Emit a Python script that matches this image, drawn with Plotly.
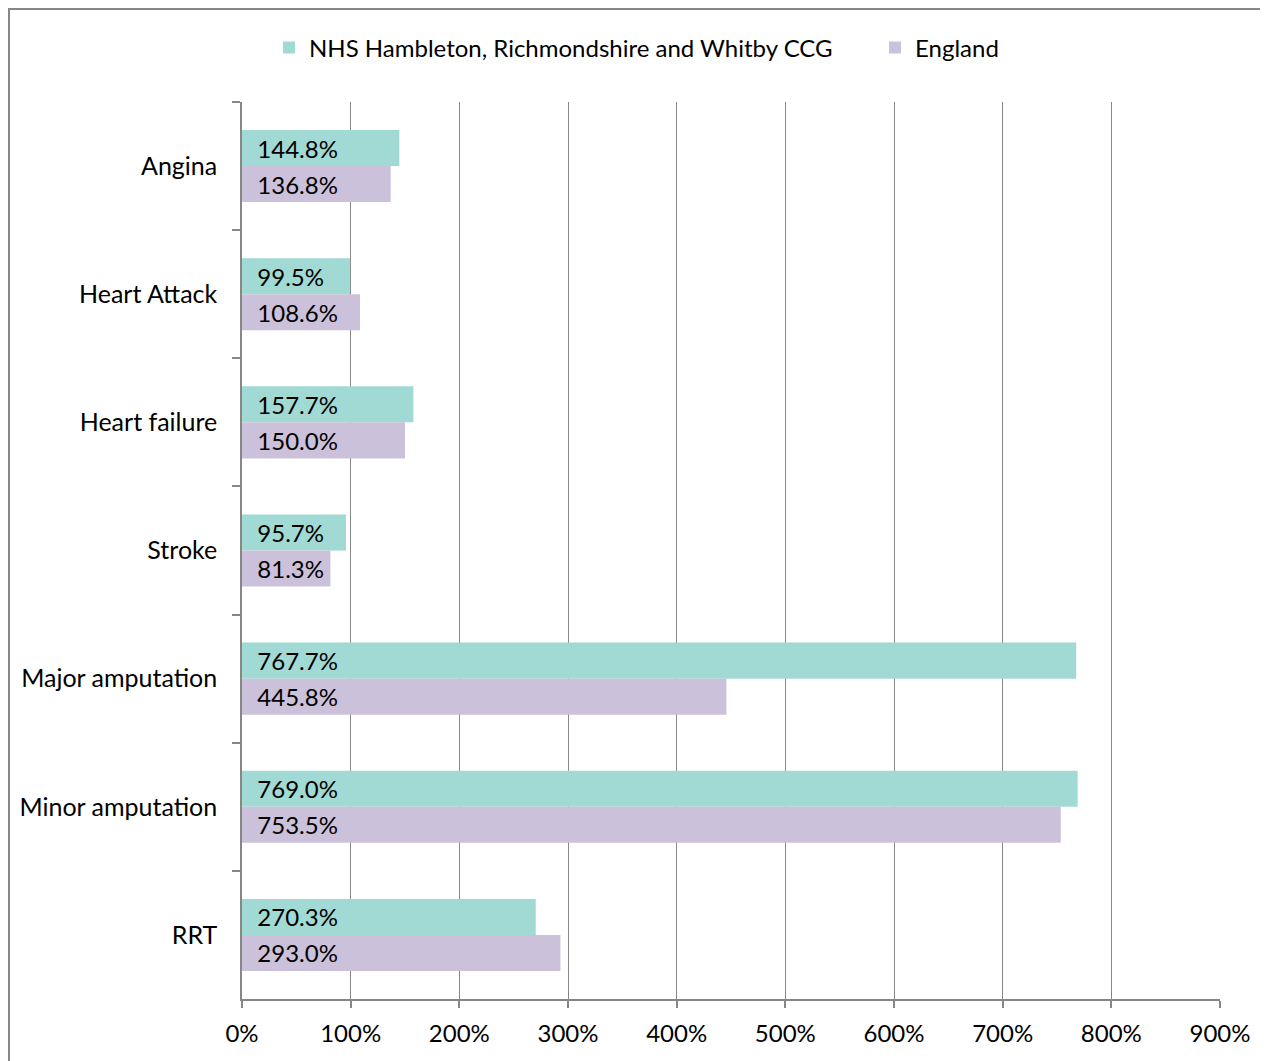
import plotly.graph_objects as go

categories = ["Angina", "Heart Attack", "Heart failure", "Stroke",
              "Major amputation", "Minor amputation", "RRT"]
series_names = ["NHS Hambleton, Richmondshire and Whitby CCG", "England"]
ccg_values = [144.8, 99.5, 157.7, 95.7, 767.7, 769.0, 270.3]
england_values = [136.8, 108.6, 150.0, 81.3, 445.8, 753.5, 293.0]
x_ticks = [0, 100, 200, 300, 400, 500, 600, 700, 800, 900]
x_tick_labels = [f"{v}%" for v in x_ticks]

colors = ["#A1DAD4", "#CCC1DA"]
FONT = "Lato, 'Open Sans', sans-serif"
OFF = 8  # page body margin
W, H = 1268 - OFF, 1061 - OFF
ML, MR, MT, MB = 242 - OFF, 48, 102 - OFF, 62
pw = W - ML - MR
ph = H - MT - MB

legend_names = ["legend", "legend2"]
legend_left = [269, 875]

fig = go.Figure()
for name, vals, col, lg in zip(series_names, [ccg_values, england_values],
                               colors, legend_names):
    fig.add_trace(go.Bar(
        y=categories, x=vals, name=name, orientation="h", legend=lg,
        marker=dict(color=col, line=dict(width=0)),
        text=[f"\u00a0\u00a0{v:.1f}%" for v in vals],
        textposition="inside", insidetextanchor="start",
        textfont=dict(family=FONT, size=24, color="#000000"),
        constraintext="none", cliponaxis=False,
    ))

legend_common = dict(orientation="h", xanchor="left",
                     y=(H - MB - (48 - OFF)) / ph, yanchor="middle",
                     font=dict(family=FONT, size=24), itemwidth=30,
                     bgcolor="rgba(0,0,0,0)")

fig.update_layout(
    width=W, height=H,
    margin=dict(l=ML, r=MR, t=MT, b=MB, pad=0, autoexpand=False),
    paper_bgcolor="white", plot_bgcolor="white",
    barmode="group", bargap=0.4375, bargroupgap=0,
    font=dict(family=FONT, size=24, color="#000000"),
    legend=dict(x=(legend_left[0] - OFF - ML) / pw, **legend_common),
    legend2=dict(x=(legend_left[1] - OFF - ML) / pw, **legend_common),
    showlegend=True,
    xaxis=dict(range=[0, 900], tickvals=x_ticks, ticktext=x_tick_labels,
               showgrid=True, gridcolor="#878787", gridwidth=1.3,
               showline=True, linecolor="#878787", linewidth=1.5,
               ticks="outside", ticklen=7, tickcolor="#878787", tickwidth=1.5,
               zeroline=False, ticklabelstandoff=5,
               tickfont=dict(family=FONT, size=24)),
    yaxis=dict(autorange="reversed", type="category",
               showline=True, linecolor="#878787", linewidth=1.5,
               ticks="outside", ticklen=8, tickcolor="#878787", tickwidth=1.5,
               tickson="boundaries", showgrid=False, ticklabelstandoff=18,
               tickfont=dict(family=FONT, size=25)),
    shapes=[dict(type="rect", xref="paper", yref="paper",
                 x0=(1 - ML) / pw, x1=(W + 5 - ML) / pw,
                 y0=(H - MB - (H + 5)) / ph, y1=(H - MB - 1) / ph,
                 line=dict(color="#878787", width=2), fillcolor="rgba(0,0,0,0)",
                 layer="below")],
)

fig.write_html("out.html")
